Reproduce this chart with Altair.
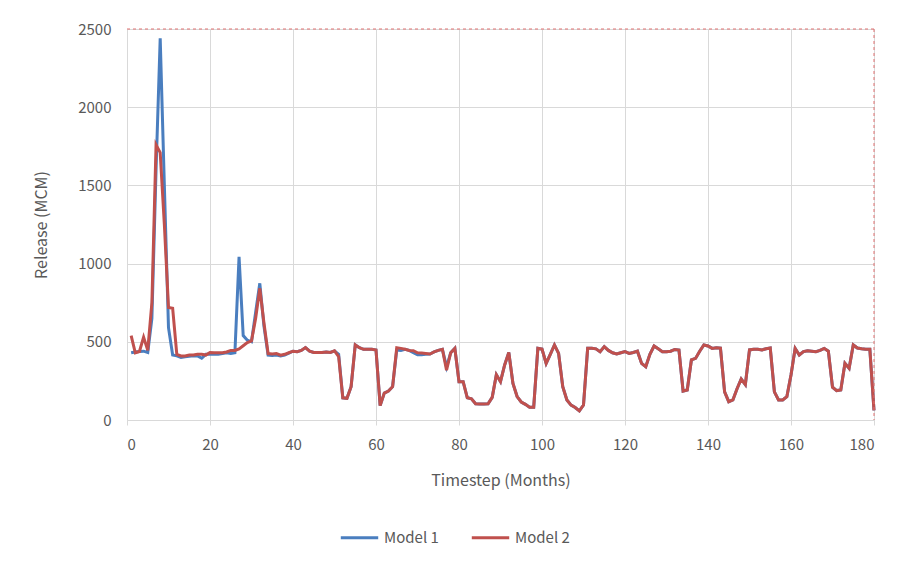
import altair as alt
import pandas as pd

months = list(range(1, 181))

model2 = [
    540, 430, 438, 530, 445, 750, 1760, 1710, 1250, 720,
    715, 420, 410, 410, 415, 415, 420, 420, 415, 432,
    430, 430, 430, 435, 445, 445, 455, 475, 495, 505,
    650, 842, 620, 425, 422, 425, 414, 420, 430, 440,
    437, 445, 463, 440, 432, 432, 432, 435, 432, 442,
    405, 142, 139, 213, 480, 462, 452, 452, 452, 448,
    92, 172, 185, 213, 462, 458, 452, 445, 443, 430,
    428, 425, 422, 435, 445, 452, 318, 430, 458, 245,
    245, 142, 135, 104, 102, 102, 104, 145, 290, 245,
    352, 432, 234, 150, 115, 100, 82, 82, 458, 453,
    362, 420, 480, 426, 213, 128, 95, 80, 58, 96,
    458, 458, 455, 437, 469, 445, 430, 422, 430, 437,
    426, 432, 440, 362, 341, 420, 473, 455, 437, 437,
    440, 451, 447, 185, 192, 384, 394, 440, 480, 473,
    458, 462, 460, 180, 117, 128, 200, 262, 226, 448,
    452, 452, 448, 455, 460, 180, 128, 128, 149, 288,
    458, 416, 437, 443, 440, 437, 445, 458, 440, 210,
    188, 192, 362, 330, 480, 460, 455, 452, 452, 62,
]

model1_start = [
    430, 435, 438, 440, 432, 650, 1600, 2440, 1500, 590,
    415, 410, 400, 405, 408, 410, 410, 395, 420, 420,
    420, 420, 425, 430, 425, 430, 1044, 540, 510, 500,
    690, 874, 600, 415, 412, 415, 410, 415, 428,
]
model1_overrides = {51: 420, 65: 448, 66: 445, 69: 430, 70: 418, 71: 418, 72: 420, 77: 340}

model1 = model1_start + model2[len(model1_start):]
for m, v in model1_overrides.items():
    model1[m - 1] = v

series_names = ["Model 1", "Model 2"]
series_colors = ["#4a7ebf", "#c0504d"]
x_ticks = list(range(0, 181, 20))
y_ticks = list(range(0, 2501, 500))

df = pd.DataFrame({
    "Month": months * 2,
    "Release": model1 + model2,
    "Series": ["Model 1"] * 180 + ["Model 2"] * 180,
})

font = "Noto Sans CJK KR"
grey = "#595959"

lines = alt.Chart(df).mark_line(strokeWidth=3).encode(
    x=alt.X("Month:Q",
            scale=alt.Scale(domain=[0, 180], nice=False),
            axis=alt.Axis(values=x_ticks, title="Timestep (Months)",
                          grid=True, gridColor="#d9d9d9",
                          domain=True, domainColor="#d9d9d9",
                          ticks=True, tickSize=5, tickColor="#d9d9d9",
                          labelPadding=12, titlePadding=20)),
    y=alt.Y("Release:Q",
            scale=alt.Scale(domain=[0, 2500], nice=False),
            axis=alt.Axis(values=y_ticks, title="Release (MCM)", format="d",
                          grid=True, gridColor="#d9d9d9",
                          domain=False, ticks=False,
                          labelPadding=16, titlePadding=28)),
    color=alt.Color("Series:N",
                    scale=alt.Scale(domain=series_names, range=series_colors),
                    legend=alt.Legend(title=None, orient="none", direction="horizontal",
                                      legendX=212, legendY=488,
                                      symbolType="stroke", symbolSize=1400,
                                      symbolStrokeWidth=3, columnPadding=26,
                                      labelFontSize=15, labelColor=grey, labelFont=font,
                                      labelOffset=4)),
    order=alt.Order("Series:N"),
)

top_rule = alt.Chart(pd.DataFrame({"y": [2500]})).mark_rule(
    color="#e07070", strokeDash=[3, 3], strokeWidth=1
).encode(y="y:Q")
right_rule = alt.Chart(pd.DataFrame({"x": [180]})).mark_rule(
    color="#e07070", strokeDash=[3, 3], strokeWidth=1
).encode(x="x:Q")

chart = alt.layer(lines, top_rule, right_rule).properties(
    width=747, height=391,
    autosize=alt.AutoSizeParams(type="none"),
    padding={"left": 119, "top": 21, "right": 25, "bottom": 135},
).configure_view(stroke=None).configure_axis(
    labelFont=font, titleFont=font, labelColor=grey, titleColor=grey,
    labelFontSize=15, titleFontSize=16, titleFontWeight="normal",
)

chart.save("out.html", embed_options={"renderer": "svg", "actions": False})
